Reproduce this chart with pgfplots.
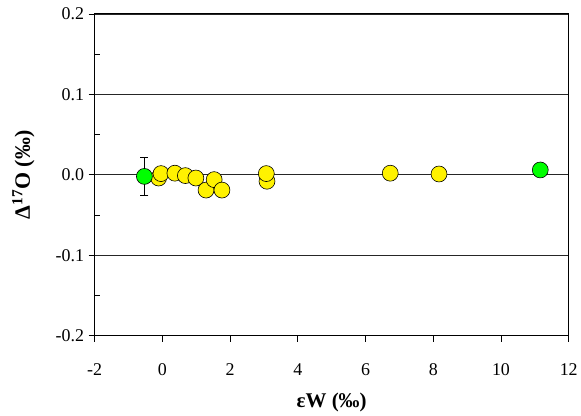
\documentclass[border=0pt]{standalone}
\usepackage{fontspec}
\setmainfont{Liberation Serif}
\usepackage{pgfplots}
\pgfplotsset{compat=1.18}
\begin{document}
\begin{tikzpicture}[x=1pt,y=1pt]
\begin{axis}[
  scale only axis,
  width=476pt, height=323pt,
  xmin=-2, xmax=12, ymin=-0.2, ymax=0.2,
  xtick={-2,0,...,12},
  ytick={-0.2,-0.1,0,0.1,0.2},
  minor ytick={-0.15,-0.05,0.05,0.15},
  yticklabel style={/pgf/number format/fixed,/pgf/number format/fixed zerofill,/pgf/number format/precision=1},
  /pgf/number format/assume math mode=true,
  ticklabel style={font=\fontsize{18}{18}\selectfont},
  xticklabel style={yshift=-19pt},
  yticklabel style={xshift=-1pt},
  axis line style={black, line width=1pt},
  major tick length=6pt,
  minor tick length=-5pt,
  tick style={black, line width=0.8pt},
  xtick pos=bottom, ytick pos=left,
  tick align=outside,
  ymajorgrids,
  major grid style={black!85, line width=0.8pt},
  xlabel={εW (‰)},
  ylabel={Δ\textsuperscript{17}O (‰)},
  xlabel style={font=\fontsize{21}{21}\selectfont\bfseries, at={(axis description cs:0.5,0)}, anchor=base, inner sep=0pt, yshift=-72pt},
  ylabel style={font=\fontsize{22}{22}\selectfont\bfseries, at={(axis description cs:0,0.5)}, anchor=south, inner sep=0pt, yshift=60pt},
  clip=false,
]
\addplot[only marks, mark=*, mark size=8pt, mark options={fill=yellow, draw=black, line width=0.6pt}] coordinates {
(-0.11,-0.004) (-0.04,0.0015) (0.37,0.002) (0.68,-0.001) (0.99,-0.004)
(1.29,-0.019) (1.53,-0.006) (1.76,-0.019) (3.09,-0.008) (3.07,0.0015)
(6.73,0.002) (8.17,0.001)
};
\addplot[only marks, mark=*, mark size=8pt, mark options={fill=green, draw=black, line width=0.6pt},
  error bars/.cd, y dir=both, y explicit, error bar style={black, line width=0.8pt}, error mark options={rotate=90, mark size=4pt, black, line width=0.8pt}] coordinates {
(-0.53,-0.002) +- (0,0.024)
};
\addplot[only marks, mark=*, mark size=8pt, mark options={fill=green, draw=black, line width=0.6pt}] coordinates {
(11.16,0.006)
};
\end{axis}
\path ([shift={(-95pt,-80pt)}]current axis.south west) rectangle ([shift={(10pt,14pt)}]current axis.north east);
\end{tikzpicture}
\end{document}
